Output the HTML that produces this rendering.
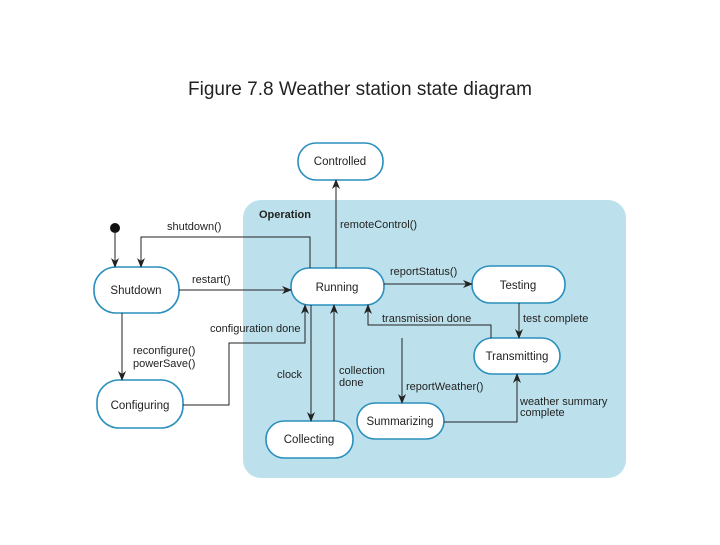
<!DOCTYPE html>
<html><head><meta charset="utf-8"><style>
body{margin:0;background:#fff;}
svg text{font-family:"Liberation Sans",sans-serif;fill:#222;}
</style></head><body>
<svg width="720" height="540" xmlns="http://www.w3.org/2000/svg">
<defs><marker id="a" markerWidth="10" markerHeight="8" refX="9" refY="4" orient="auto" markerUnits="userSpaceOnUse"><path d="M0,0 L10,4 L0,8 L3,4 z" fill="#222"/></marker></defs>
<text x="360" y="95" text-anchor="middle" font-size="19">Figure 7.8  Weather station state diagram</text>
<rect x="243" y="200" width="383" height="278" rx="18" fill="#bde1ec"/>
<text x="259" y="218" font-size="11" font-weight="bold">Operation</text>
<g fill="#fff" stroke="#2a8fbd" stroke-width="1.6">
<rect x="298" y="143" width="85" height="37" rx="18"/>
<rect x="94" y="267" width="85" height="46" rx="22"/>
<rect x="291" y="268" width="93" height="37" rx="18"/>
<rect x="472" y="266" width="93" height="37" rx="18"/>
<rect x="474" y="338" width="86" height="36" rx="18"/>
<rect x="357" y="403" width="87" height="36" rx="18"/>
<rect x="266" y="421" width="87" height="37" rx="18"/>
<rect x="97" y="380" width="86" height="48" rx="22"/>
</g>
<g font-size="11.5" text-anchor="middle">
<text x="340" y="165">Controlled</text>
<text x="136" y="294">Shutdown</text>
<text x="337" y="291">Running</text>
<text x="518" y="289">Testing</text>
<text x="517" y="360">Transmitting</text>
<text x="400" y="425">Summarizing</text>
<text x="309" y="443">Collecting</text>
<text x="140" y="409">Configuring</text>
</g>
<circle cx="115" cy="228" r="5" fill="#111"/>
<g stroke="#222" stroke-width="1" fill="none" marker-end="url(#a)">
<path d="M115,233 V267"/>
<path d="M310,268 V237 H141 V267"/>
<path d="M179,290 H291"/>
<path d="M336,268 V180"/>
<path d="M384,284 H472"/>
<path d="M491,338 V325 H368 V305"/>
<path d="M519,303 V338"/>
<path d="M183,405 H229 V343 H305 V305"/>
<path d="M311,305 V421"/>
<path d="M334,421 V305"/>
<path d="M402,338 V403"/>
<path d="M444,422 H517 V374"/>
<path d="M122,313 V380"/>
</g>
<g font-size="11">
<text x="167" y="230">shutdown()</text>
<text x="192" y="283">restart()</text>
<text x="340" y="228">remoteControl()</text>
<text x="390" y="275">reportStatus()</text>
<text x="382" y="322">transmission done</text>
<text x="523" y="322">test complete</text>
<text x="210" y="332">configuration done</text>
<text x="277" y="378">clock</text>
<text x="339" y="374">collection</text>
<text x="339" y="386">done</text>
<text x="406" y="390">reportWeather()</text>
<text x="520" y="405">weather summary</text>
<text x="520" y="416">complete</text>
<text x="133" y="354">reconfigure()</text>
<text x="133" y="367">powerSave()</text>
</g>
</svg>
</body></html>
